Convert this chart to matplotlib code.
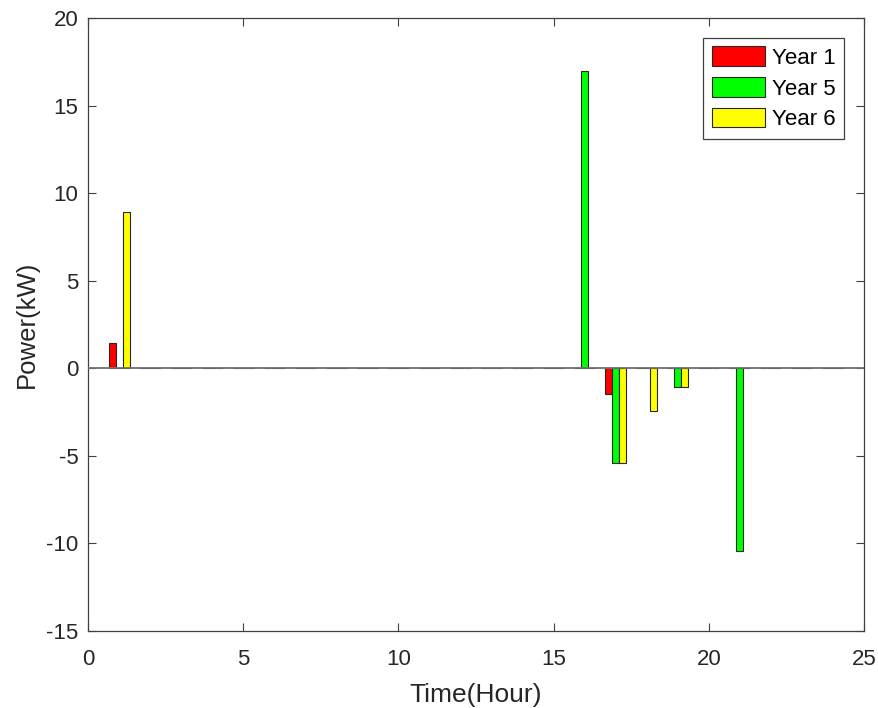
import numpy as np
import matplotlib.pyplot as plt

plt.rcParams['font.family'] = ['Liberation Sans', 'DejaVu Sans']
plt.rcParams['axes.unicode_minus'] = False

hours = np.arange(1, 25)

# power per hour (kW), zero where nothing happens
year1 = np.zeros(24)
year1[[0, 16]] = [1.47, -1.45]

year5 = np.zeros(24)
year5[[15, 16, 18, 20]] = [16.97, -5.42, -1.07, -10.45]

year6 = np.zeros(24)
year6[[0, 16, 17, 18]] = [8.9, -5.42, -2.45, -1.07]

series = [year1, year5, year6]
labels = ['Year 1', 'Year 5', 'Year 6']
colors = ['#ff0000', '#00ff00', '#ffff00']

fig = plt.figure(figsize=(8.79, 7.08), dpi=100)
ax = fig.add_axes([0.1001, 0.1088, 0.8828, 0.8658])

w = 0.225
for i, (vals, lab, c) in enumerate(zip(series, labels, colors)):
    ax.bar(hours + (i - 1) * w, vals, width=w, color=c, edgecolor='#262626',
           linewidth=0.8, label=lab, zorder=3)

# baseline on top of the zero-height bars
ax.axhline(0, color='#707070', linewidth=1.3, zorder=4)

ax.set_xlim(0, 25)
ax.set_ylim(-15, 20)
ax.set_xticks(range(0, 26, 5))
ax.set_yticks(range(-15, 21, 5))
ax.tick_params(direction='in', top=True, right=True, labelsize=16,
               length=6, width=0.8, colors='#404040', labelcolor='#262626')
ax.tick_params(axis='y', pad=7)
ax.tick_params(axis='x', pad=13)
for s in ax.spines.values():
    s.set_color('#404040')
    s.set_linewidth(0.9)

ax.set_xlabel('Time(Hour)', fontsize=19, color='#262626', labelpad=9)
ax.set_ylabel('Power(kW)', fontsize=18.5, color='#262626', labelpad=5)

leg = ax.legend(loc='upper right', fontsize=16, fancybox=False,
                edgecolor='#404040', framealpha=1, borderaxespad=0.9,
                handlelength=2.4, handleheight=1.0, labelspacing=0.36,
                handletextpad=0.3, borderpad=0.38)
leg.get_frame().set_linewidth(0.9)

fig.savefig('out.png', dpi=100)
